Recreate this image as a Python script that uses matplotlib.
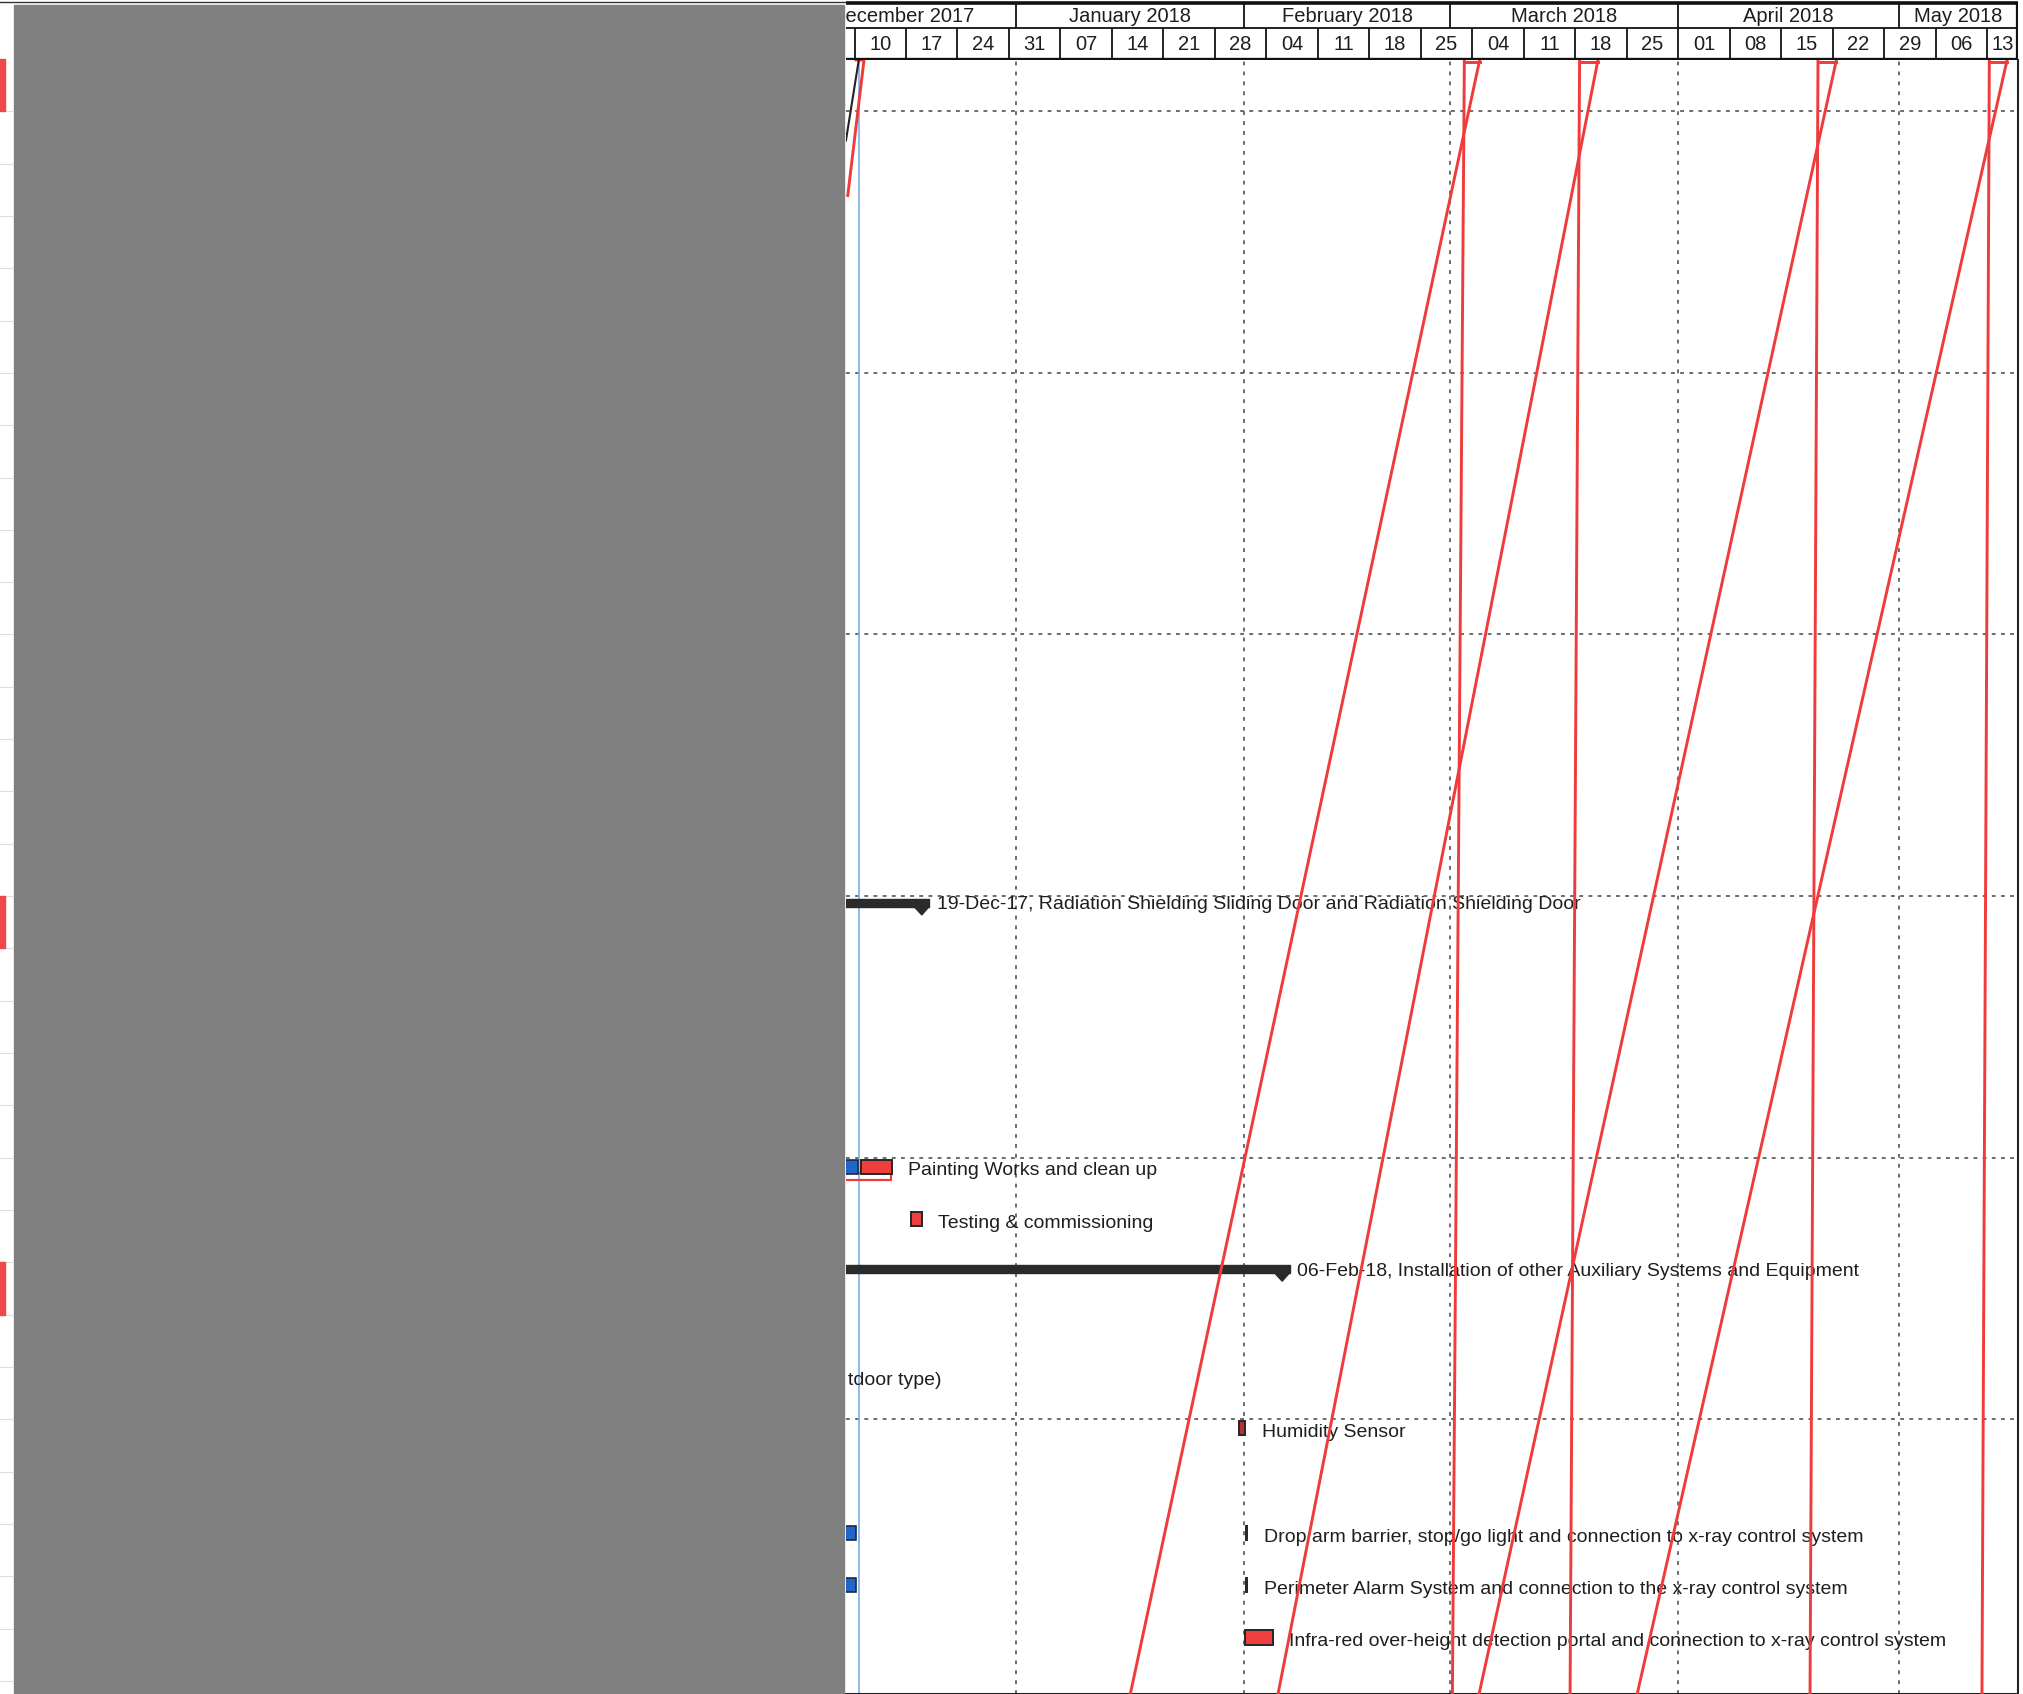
import matplotlib
matplotlib.use("Agg")
import matplotlib.pyplot as plt
import matplotlib.dates as mdates
import matplotlib.transforms as mtransforms
from matplotlib.patches import Rectangle, Polygon
from matplotlib import font_manager
import pandas as pd

summary_rows = [16, 23]
summary_finish = ["2017-12-19", "2018-02-06"]
summary_labels = ["19-Dec-17, Radiation Shielding Sliding Door and Radiation Shielding Door",
                  "06-Feb-18, Installation of other Auxiliary Systems and Equipment"]

task_rows = [21, 22, 26, 28, 29, 30]
task_labels = ["Painting Works and clean up",
               "Testing & commissioning",
               "Humidity Sensor",
               "Drop arm barrier, stop/go light and connection to x-ray control system",
               "Perimeter Alarm System and connection to the x-ray control system",
               "Infra-red over-height detection portal and connection to x-ray control system"]
task_start = ["2017-12-10 20:00", "2017-12-17 16:00", "2018-01-31 07:00",
              "2018-02-01 04:00", "2018-02-01 04:00", "2018-02-01 02:00"]
task_finish = ["2017-12-15 01:00", "2017-12-19 03:00", "2018-02-01 02:00",
               "2018-02-01 10:00", "2018-02-01 10:00", "2018-02-04 21:00"]
task_colors = ["#ee3e3e", "#ee3e3e", "#b83030", "#222222", "#222222", "#ee3e3e"]

# blue (actual) stubs at the left edge
done_rows = [21, 28, 29]
done_finish = ["2017-12-10 12:00", "2017-12-10 05:00", "2017-12-10 05:00"]

# baseline outline under painting works
base_rows = [21]
base_finish = ["2017-12-14 22:00"]

# row whose label is cut by the left edge
cut_rows = [25]
cut_labels = ["tdoor type)"]

# red progress lines: vertical at the status date + slanted line back to the left
status_top = ["2018-03-02 22:00", "2018-03-18 14:00", "2018-04-20 00:00", "2018-05-13 07:00"]
status_bottom = ["2018-03-01 07:00", "2018-03-17 07:00", "2018-04-18 22:00", "2018-05-12 07:00"]
slant_top = ["2018-03-05 00:00", "2018-03-21 02:00", "2018-04-22 12:00", "2018-05-15 17:00"]
slant_bottom = ["2018-01-16 12:00", "2018-02-05 14:00", "2018-03-04 22:00", "2018-03-26 10:00"]

# the short lines leaving the left edge at the top
edge_red_x = ["2017-12-10 05:00", "2017-12-11 07:00", "2017-12-09 02:00"]
edge_red_y = [-0.15, -0.15, 2.44]
edge_black_x = ["2017-12-10 14:00", "2017-12-08 20:00"]
edge_black_y = [-0.15, 1.39]

status_line = "2017-12-10 14:00"

month_starts = pd.date_range("2017-12-01", "2018-06-01", freq="MS")
week_starts = pd.date_range("2017-12-10", "2018-05-13", freq="7D")
grid_rows = [0.83, 5.83, 10.83, 15.83, 20.83, 25.83]
strip_rows = [0, 16, 23]

# ---- figure layout (pixel boxes) ----
W, H = 2024, 1694
fig = plt.figure(figsize=(W / 100, H / 100), dpi=100)
fig.patch.set_facecolor("white")

names = {f.name for f in font_manager.fontManager.ttflist}
hdr_font = "Liberation Sans Narrow" if "Liberation Sans Narrow" in names else "Liberation Sans"
hdr_size = 16 if hdr_font == "Liberation Sans Narrow" else 14.5
txt_font = ["Liberation Sans", "DejaVu Sans"]
ink = "#1e1e1e"
red = "#ef3b3b"


def box(x0, y0, x1, y1):
    return [x0 / W, 1 - y1 / H, (x1 - x0) / W, (y1 - y0) / H]


def num(s):
    return mdates.date2num(pd.Timestamp(s))


day0 = num("2017-12-10")
px_day = 7.355
xlim = (day0 + (846 - 854.5) / px_day, day0 + (2018 - 854.5) / px_day)

ax = fig.add_axes(box(846, 60, 2018, 1694))
ax.set_xlim(xlim)
ax.set_ylim(31.08, -0.15)
ax.set_xticks([])
ax.set_yticks([])
for s in ["left", "top"]:
    ax.spines[s].set_visible(False)
for s in ["right", "bottom"]:
    ax.spines[s].set_linewidth(1.5)
    ax.spines[s].set_color("#222222")

# dotted grid
for m in month_starts:
    ax.axvline(mdates.date2num(m), color="#444444", lw=1.1, ls=(0, (2.5, 4)), zorder=1)
for r in grid_rows:
    ax.axhline(r, color="#444444", lw=1.1, ls=(0, (2.5, 3.5)), zorder=1)

ax.axvline(num(status_line), color="#7aaee8", lw=1.2, zorder=2)

# summary bars
for r, f, lab in zip(summary_rows, summary_finish, summary_labels):
    F = num(f)
    ax.barh(r - 0.04, F + 1.15 - (xlim[0] - 2), left=xlim[0] - 2, height=0.14,
            color="#2b2b2b", edgecolor="#2b2b2b", zorder=3)
    ax.add_patch(Polygon([(F - 0.9, r + 0.03), (F + 1.15, r + 0.03), (F + 0.15, r + 0.19)],
                         closed=True, color="#2b2b2b", zorder=3))
    ax.annotate(lab, (F, r), xytext=(11.5, 0), textcoords="offset points",
                ha="left", va="center", fontsize=14, family=txt_font, color=ink, zorder=4)

# baseline outline
for r, f in zip(base_rows, base_finish):
    ax.barh(r + 0.19, num(f) - (xlim[0] - 2), left=xlim[0] - 2, height=0.12,
            color="none", edgecolor=red, lw=1.6, zorder=3)

# actual (blue) stubs
for r, f in zip(done_rows, done_finish):
    ax.barh(r, num(f) - (xlim[0] - 2), left=xlim[0] - 2, height=0.27,
            color="#1f66c8", edgecolor="#1b2a44", lw=1.2, zorder=3)

# task bars
for r, s, f, c, lab in zip(task_rows, task_start, task_finish, task_colors, task_labels):
    ax.barh(r, num(f) - num(s), left=num(s), height=0.27,
            color=c, edgecolor="#262626", lw=1.4, zorder=3)
    ax.annotate(lab, (num(f), r + 0.08), xytext=(12, 0), textcoords="offset points",
                ha="left", va="center", fontsize=14, family=txt_font, color=ink, zorder=4)

for r, lab in zip(cut_rows, cut_labels):
    ax.text(xlim[0] + 0.3, r + 0.08, lab, ha="left", va="center", fontsize=14,
            family=txt_font, color=ink, zorder=4)

# red progress lines
y0, y1 = ax.get_ylim()[1], ax.get_ylim()[0]
for vt, vb, st, sb in zip(status_top, status_bottom, slant_top, slant_bottom):
    ax.plot([num(vt), num(vb)], [y0, y1], color=red, lw=2.1, zorder=6, clip_on=False)
    ax.plot([num(st), num(sb)], [y0, y1], color=red, lw=2.1, zorder=6, clip_on=False)
    ax.plot([num(vt), num(st)], [y0 + 0.03, y0 + 0.03], color=red, lw=2.1, zorder=6)
ax.plot([num(x) for x in edge_red_x], edge_red_y, color=red, lw=2.1, zorder=6)
ax.plot([num(x) for x in edge_black_x], edge_black_y, color="#222222", lw=1.5, zorder=6)

# ---- timescale header ----
hx = fig.add_axes(box(846, 0, 2018, 60))
hx.set_xlim(xlim)
hx.set_ylim(60, 0)
hx.axis("off")
hx.axhline(3, color="#111111", lw=2.6)
hx.axhline(28.5, color="#111111", lw=1.3)
hx.axhline(59, color="#111111", lw=2.4)
hx.vlines(xlim[1] - 0.15, 3, 59, color="#111111", lw=1.6)
for i in range(len(month_starts) - 1):
    a = mdates.date2num(month_starts[i])
    b = min(mdates.date2num(month_starts[i + 1]), xlim[1])
    hx.vlines(a, 3, 28.5, color="#111111", lw=1.3)
    if a < xlim[1]:
        hx.text((a + b) / 2, 16, month_starts[i].strftime("%B %Y"), ha="center", va="center",
                fontsize=hdr_size, family=[hdr_font, "DejaVu Sans"], color=ink, clip_on=True)
for w in week_starts:
    a = mdates.date2num(w)
    b = min(a + 7, xlim[1])
    hx.vlines(a, 28.5, 59, color="#111111", lw=1.3)
    hx.text((a + b) / 2, 44, w.strftime("%d"), ha="center", va="center",
            fontsize=hdr_size, family=[hdr_font, "DejaVu Sans"], color=ink, clip_on=True)

# ---- redacted table on the left ----
fig.add_artist(plt.Line2D([0, 846 / W], [1 - 2 / H, 1 - 2 / H], color="#333333", lw=1.0,
                          transform=fig.transFigure))
fig.add_artist(Rectangle((14 / W, 0), (844.5 - 14) / W, (H - 5) / H,
                         transform=fig.transFigure, color="#808080", zorder=5))
strip = mtransforms.blended_transform_factory(fig.transFigure, ax.transData)
for k in range(31):
    fig.add_artist(plt.Line2D([0, 12 / W], [k + 0.83, k + 0.83], color="#dddddd", lw=0.8,
                              transform=strip))
for r in strip_rows:
    fig.add_artist(Rectangle((0, r - 0.17), 5 / W, 1.0, transform=strip,
                             color="#f04848", zorder=5))

fig.savefig("out.png", dpi=100)
